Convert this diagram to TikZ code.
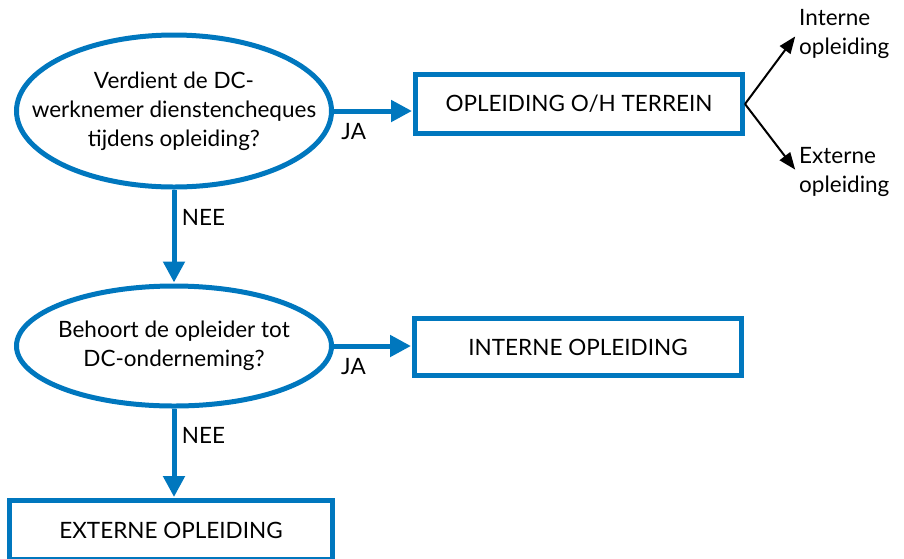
\documentclass[tikz,border=0pt]{standalone}
\usepackage{fontspec}
\setmainfont{Lato}
\usetikzlibrary{shapes.geometric,arrows.meta,positioning}
\definecolor{flowblue}{RGB}{0,119,190}

\begin{document}
\begin{tikzpicture}[x=1pt,y=-1pt,
    font=\fontsize{22.5}{29}\selectfont,
    vraag/.style={ellipse, draw=flowblue, line width=5pt, inner sep=0pt},
    keuze/.style={rectangle, draw=flowblue, line width=5pt, minimum width=327pt, minimum height=59pt},
    blauw/.style={draw=flowblue, line width=5pt, -{Triangle[length=21pt,width=21pt]}, shorten >=1pt},
    zwart/.style={draw=black, line width=2pt, -{Triangle[length=17pt,width=13pt]}, shorten >=3pt},
    ]
    \useasboundingbox (0,0) rectangle (904,558);

    \node [vraag, minimum width=315pt, minimum height=152pt,
        label={[align=center]center:Verdient de DC-\\werknemer dienstencheques\\tijdens opleiding?}](v1) at (174,111){};
    \node [keuze](k1) at (579,104){OPLEIDING O/H TERREIN};
    \node [align=left, inner sep=2pt, anchor=west](intern) at (797,34){Interne\\opleiding};
    \node [align=left, inner sep=2pt, anchor=west](extern) at (797,172){Externe\\opleiding};

    \node [vraag, minimum width=315pt, minimum height=120pt,
        label={[align=center]center:Behoort de opleider tot\\DC-onderneming?}](v2) at (174,346){};
    \node [keuze, minimum height=57pt](k2) at (578,347){INTERNE OPLEIDING};
    \node [keuze, minimum width=323pt](k3) at (171,530){EXTERNE OPLEIDING};

    \draw[blauw] (v1.east) -- node[below, black, pos=0.25, yshift=-7pt]{JA} (v1.east -| k1.west);
    \draw[blauw] (v1.south) -- node[right, black, pos=0.3, xshift=2pt]{NEE} (v2.north);
    \draw[blauw] (v2.east) -- node[below, black, pos=0.25, yshift=-7pt]{JA} (v2.east -| k2.west);
    \draw[blauw] (v2.south) -- node[right, black, pos=0.3, xshift=2pt]{NEE} (v2.south |- k3.north);

    \draw[zwart] (k1.east) -- (intern.west);
    \draw[zwart] (k1.east) -- (extern.west);

\end{tikzpicture}
\end{document}
